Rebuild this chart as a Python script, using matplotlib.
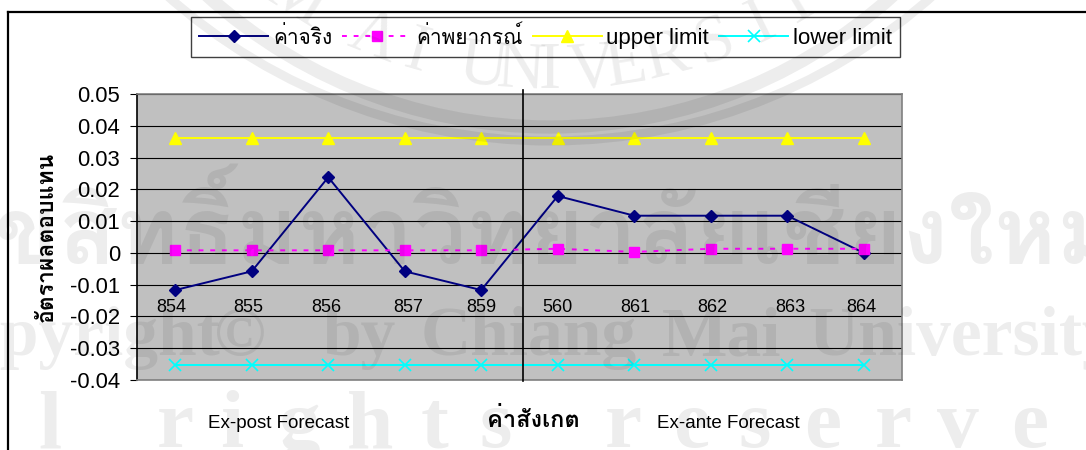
import matplotlib
matplotlib.use("Agg")
import matplotlib.pyplot as plt
from matplotlib.patches import Circle
from matplotlib.transforms import IdentityTransform
import numpy as np

# chart data
observations = ["854", "855", "856", "857", "859", "560", "861", "862", "863", "864"]
actual = [-0.0117, -0.0058, 0.0238, -0.0058, -0.0117, 0.0179, 0.0117, 0.0117, 0.0117, 0.0]
forecast = [0.0008, 0.0008, 0.0008, 0.0008, 0.0008, 0.0013, 0.0003, 0.0013, 0.0013, 0.0013]
upper_limit = [0.0363] * 10
lower_limit = [-0.0352] * 10
y_ticks = [0.05, 0.04, 0.03, 0.02, 0.01, 0, -0.01, -0.02, -0.03, -0.04]
y_tick_labels = ["0.05", "0.04", "0.03", "0.02", "0.01", "0", "-0.01", "-0.02", "-0.03", "-0.04"]

# the category labels were nudged by hand in the original sheet (pixels)
label_nudge = np.array([-4, -4, -2, 3, 0, 0, 1, 2, 3, -2])

FONTS = ["Liberation Sans", "Loma", "DejaVu Sans"]
THAI_FONTS = ["Loma", "Liberation Sans", "DejaVu Sans"]
WIDTH, HEIGHT = 1086, 450
WATERMARK = (0, 0, 0, 0.07)

# seal lettering around the ring, degrees from the bottom of the circle
seal_letters = "MAIUNIVERSITY"
seal_angles = [-32, -21.5, -16, -8, -3.5, 0, 5, 9, 14, 20, 26, 31, 37]

# watermark rows, spread out wider than a plain text run
copyright_words = ["Copyright", "©", "by", "Chiang", "Mai", "University"]
copyright_x = [-84, 214, 322, 421, 662, 808]
rights_letters = "lrightsreserve"
rights_x = [50, 175, 232, 300, 370, 435, 496, 623, 692, 755, 823, 893, 958, 1030]

plt.rcParams["font.family"] = FONTS


def px(x, y):
    return x / WIDTH, 1 - y / HEIGHT


def add_logo(fig):
    # seal along the top edge, the rings are centred above the figure
    for cy, radius, width in ((-436, 577, 6.5), (-386, 513, 9.5)):
        ring = Circle((550, HEIGHT - cy), radius, fill=False, lw=width, ec=WATERMARK,
                      transform=IdentityTransform(), zorder=20)
        fig.add_artist(ring)
    for letter, angle in zip(seal_letters, seal_angles):
        a = np.radians(angle)
        x, y = px(550 + 482 * np.sin(a), -410 + 482 * np.cos(a))
        fig.text(x, y, letter, family="Liberation Serif", fontsize=48, rotation=angle,
                 rotation_mode="anchor", color=WATERMARK, ha="center", va="center", zorder=20)


def add_watermark(fig):
    x, y = px(1120, 264)
    fig.text(x, y, "ลิขสิทธิ์มหาวิทยาลัยเชียงใหม่", family=THAI_FONTS, fontsize=68, weight="bold",
             color=WATERMARK, ha="right", va="baseline", zorder=20)
    for word, xp in zip(copyright_words, copyright_x):
        x, y = px(xp, 355)
        fig.text(x, y, word, family="Liberation Serif", fontsize=50, weight="bold", color=WATERMARK,
                 ha="left", va="baseline", zorder=20)
    for letter, xp in zip(rights_letters, rights_x):
        x, y = px(xp, 447)
        fig.text(x, y, letter, family="Liberation Serif", fontsize=60, weight="bold", color=WATERMARK,
                 ha="center", va="baseline", zorder=20)


fig = plt.figure(figsize=(WIDTH / 100, HEIGHT / 100), dpi=100, facecolor="white")

# outer frame, open on the right and the bottom
fig.add_artist(plt.Line2D([7.5 / WIDTH, 7.5 / WIDTH], [0, 1 - 12 / HEIGHT], color="black", lw=1.6))
fig.add_artist(plt.Line2D([7.5 / WIDTH, 1], [1 - 12 / HEIGHT, 1 - 12 / HEIGHT], color="black", lw=1.6))

ax = fig.add_axes([137 / WIDTH, 1 - 380 / HEIGHT, 765 / WIDTH, 286 / HEIGHT])
ax.set_facecolor("#C0C0C0")
ax.set_xlim(0, 10)
ax.set_ylim(-0.04, 0.05)
positions = np.arange(len(observations)) + 0.5

ax.set_axisbelow(True)
ax.yaxis.grid(True, color="black", lw=0.8)
ax.set_yticks(y_ticks)
ax.set_yticklabels(y_tick_labels, fontsize=15.8)
ax.tick_params(axis="y", length=5, width=0.8, pad=7)
ax.set_xticks(positions + label_nudge / 76.5)
ax.set_xticklabels(observations, fontsize=13)
ax.tick_params(axis="x", length=0, pad=-58)
for name, spine in ax.spines.items():
    spine.set_color("black" if name == "left" else "#808080")
    spine.set_linewidth(1.2)

l1, = ax.plot(positions, actual, color="#000080", lw=1.4, marker="D", ms=6, label="ค่าจริง")
l2, = ax.plot(positions, forecast, color="#FF00FF", lw=1.4, ls=(0, (2.5, 3.5)), marker="s", ms=7.5, label="ค่าพยากรณ์")
l3, = ax.plot(positions, upper_limit, color="#FFFF00", lw=1.4, marker="^", ms=8.5, label="upper limit")
l4, = ax.plot(positions, lower_limit, color="#00FFFF", lw=1.4, marker="x", ms=8.5, mew=1.2, label="lower limit")

# divider between the two forecast periods
ax.plot([5.05, 5.05], [-0.0403, 0.0513], color="black", lw=1.2, clip_on=False, zorder=5)

x, y = px(47, 237)
fig.text(x, y, "อัตราผลตอบแทน", family=THAI_FONTS, fontsize=16.5, weight="bold",
         rotation=90, ha="center", va="center")

leg = fig.legend(handles=[l1, l2, l3, l4], loc="upper left", bbox_to_anchor=(191 / WIDTH, 1 - 17 / HEIGHT),
                 ncol=4, fontsize=16, frameon=True, fancybox=False, edgecolor="#404040", framealpha=1,
                 borderpad=0.38, handlelength=3.1, columnspacing=0.45, handletextpad=0.22, borderaxespad=0)
leg.get_frame().set_linewidth(1.0)
for text in leg.get_texts()[:2]:
    text.set_fontsize(15)

for label, xp in (("Ex-post Forecast", 279), ("Ex-ante Forecast", 728)):
    x, y = px(xp, 423)
    fig.text(x, y, label, fontsize=13.5, ha="center", va="center")
x, y = px(533, 420)
fig.text(x, y, "ค่าสังเกต", family=THAI_FONTS, fontsize=17, weight="bold", ha="center", va="center")

add_logo(fig)
add_watermark(fig)

fig.savefig("out.png", dpi=100)
